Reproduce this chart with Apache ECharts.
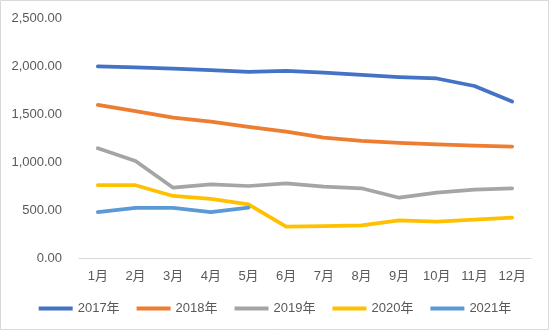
<!DOCTYPE html>
<html>
<head>
<meta charset="utf-8">
<script src="https://cdn.jsdelivr.net/npm/echarts@6/dist/echarts.min.js"></script>
<style>
  html, body { margin: 0; padding: 0; background: #fff; }
  #chart { width: 550px; height: 331px; }
</style>
</head>
<body>
<div id="chart"></div>
<script>
// Monthly values per year
const months = ['1月', '2月', '3月', '4月', '5月', '6月', '7月', '8月', '9月', '10月', '11月', '12月'];
const seriesNames = ['2017年', '2018年', '2019年', '2020年', '2021年'];
const y2017 = [1997, 1986, 1972, 1958, 1940, 1948, 1932, 1908, 1885, 1870, 1792, 1630];
const y2018 = [1594, 1531, 1462, 1420, 1365, 1316, 1253, 1219, 1198, 1184, 1170, 1159];
const y2019 = [1143, 1010, 732, 768, 750, 778, 743, 726, 628, 680, 711, 726];
const y2020 = [760, 758, 646, 615, 559, 326, 332, 340, 392, 380, 400, 420];
const y2021 = [479, 521, 521, 479, 524];
const yTicks = [0, 500, 1000, 1500, 2000, 2500];

const colors = ['#4472C4', '#ED7D31', '#A5A5A5', '#FFC000', '#5B9BD5'];
const values = [y2017, y2018, y2019, y2020, y2021];

function fmt(v) {
  const parts = v.toFixed(2).split('.');
  parts[0] = parts[0].replace(/\B(?=(\d{3})+(?!\d))/g, ',');
  return parts.join('.');
}

const chart = echarts.init(document.getElementById('chart'), null, { renderer: 'canvas' });
chart.setOption({
  animation: false,
  backgroundColor: '#fff',
  textStyle: { fontFamily: 'Liberation Sans, Arial, sans-serif' },
  graphic: [{
    type: 'rect',
    shape: { x: 0.5, y: 0.5, width: 548, height: 329 },
    style: { fill: 'none', stroke: '#d9d9d9', lineWidth: 1 },
    silent: true
  }],
  grid: { left: 79, right: 19, top: 18, bottom: 73 },
  xAxis: {
    type: 'category',
    data: months,
    boundaryGap: true,
    axisLine: { lineStyle: { color: '#d9d9d9', width: 1 } },
    axisTick: { show: false },
    axisLabel: { color: '#595959', fontSize: 13, margin: 12, fontFamily: 'Liberation Sans, Arial, Noto Sans CJK SC, sans-serif' }
  },
  yAxis: {
    type: 'value',
    min: yTicks[0],
    max: yTicks[yTicks.length - 1],
    interval: 500,
    axisLine: { show: false },
    axisTick: { show: false },
    splitLine: { show: false },
    axisLabel: { color: '#595959', fontSize: 13, margin: 17, formatter: fmt }
  },
  legend: {
    bottom: 11,
    left: 'center',
    icon: 'rect',
    itemWidth: 34,
    itemHeight: 4,
    itemGap: 17,
    textStyle: { color: '#595959', fontSize: 13, fontFamily: 'Liberation Sans, Arial, Noto Sans CJK SC, sans-serif' },
    data: seriesNames
  },
  series: seriesNames.map((name, i) => ({
    name: name,
    type: 'line',
    data: values[i],
    showSymbol: false,
    symbol: 'none',
    color: colors[i],
    lineStyle: { width: 3.75, color: colors[i], cap: 'round', join: 'round' }
  }))
});
</script>
</body>
</html>
